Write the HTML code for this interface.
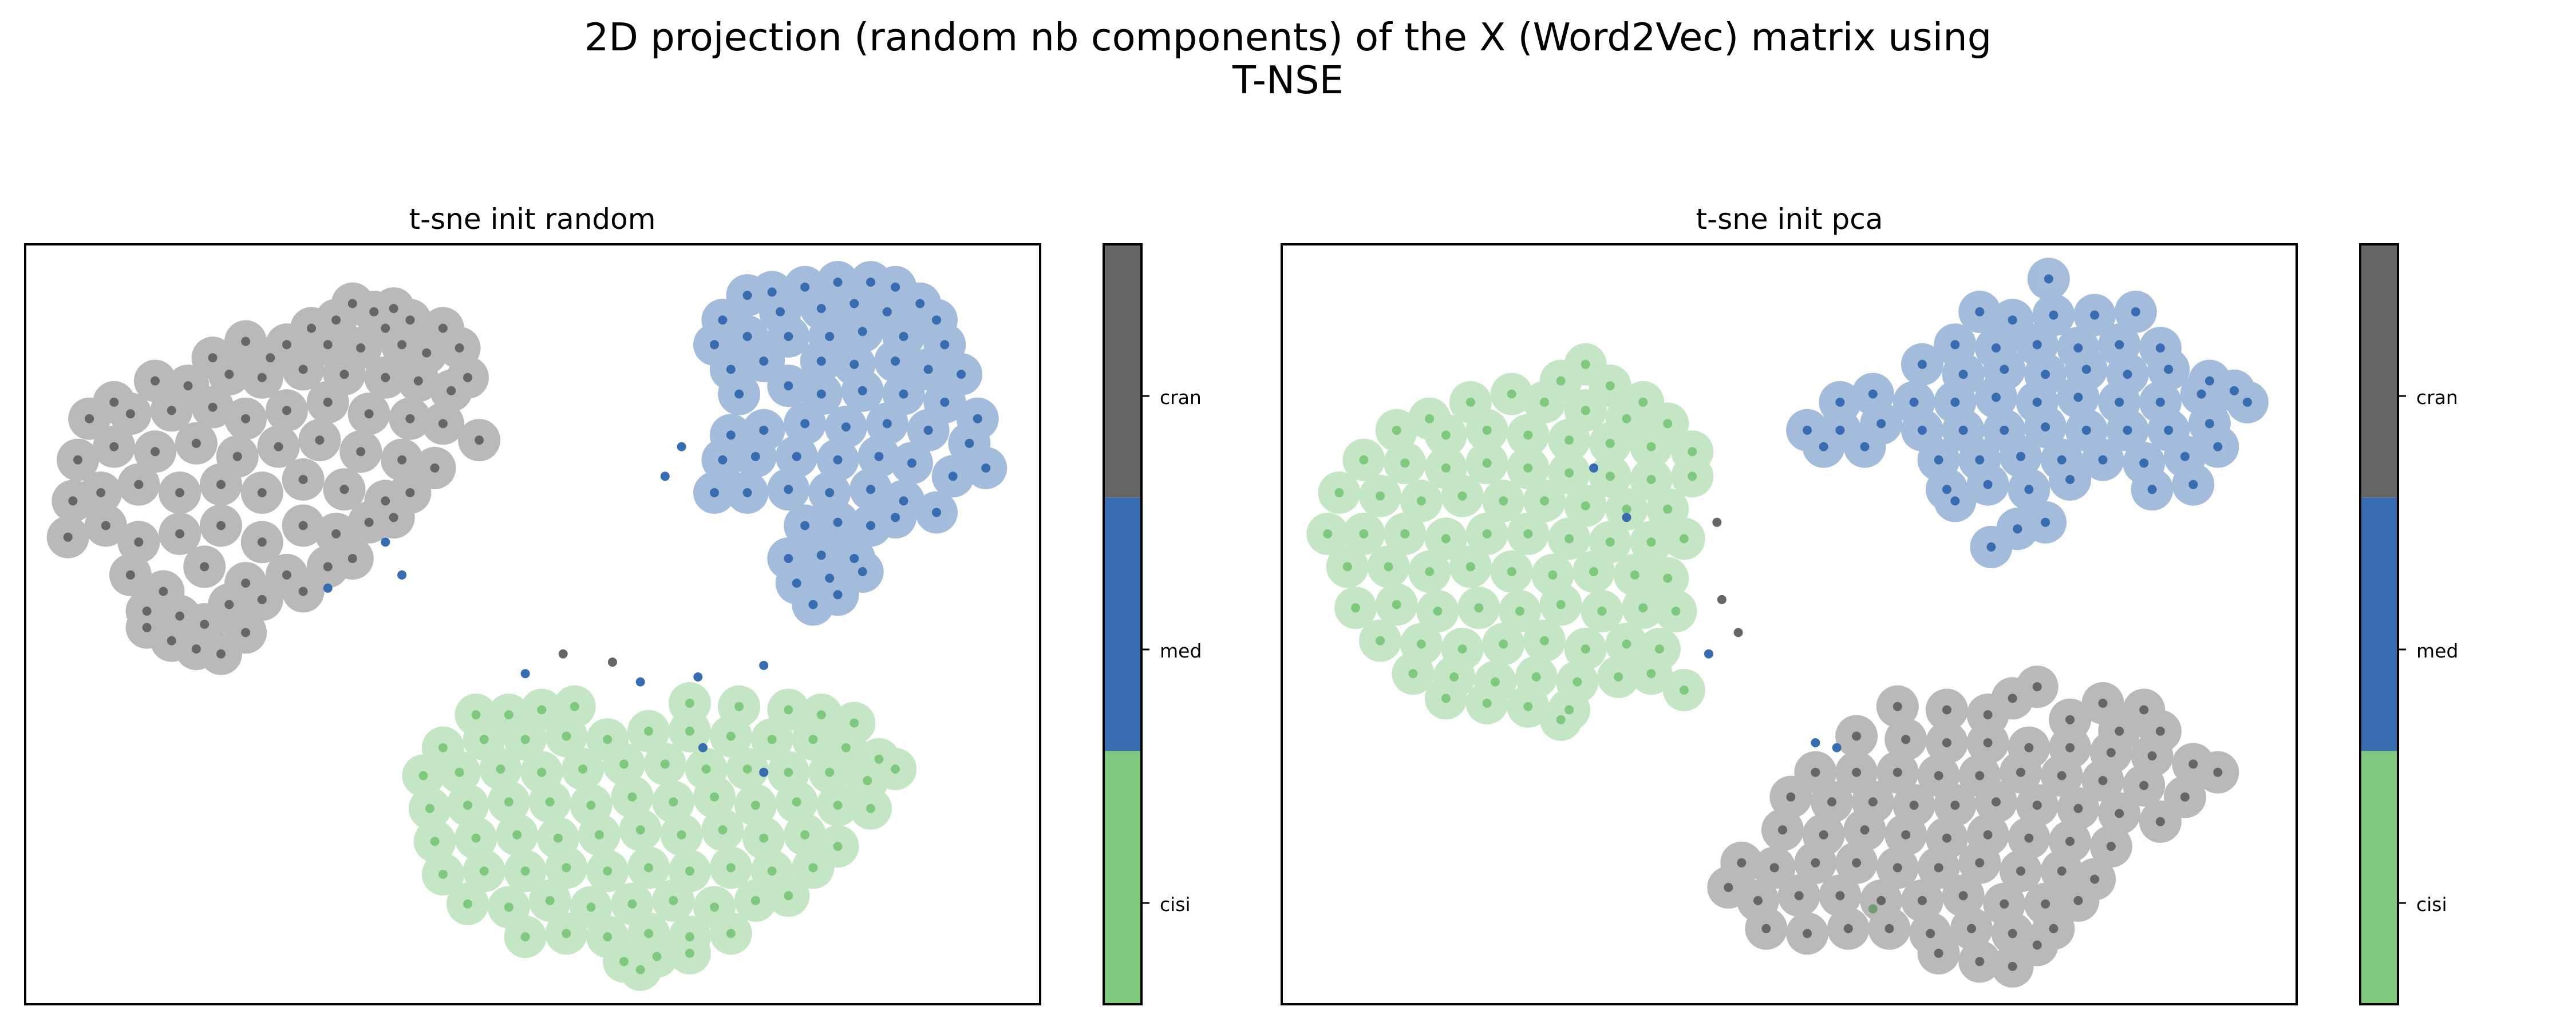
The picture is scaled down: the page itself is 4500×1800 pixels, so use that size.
<!DOCTYPE html>
<html><head><meta charset="utf-8">
<style>
html,body{margin:0;padding:0;background:#fff;}
svg{display:block;}
text{font-family:"DejaVu Sans","Liberation Sans",sans-serif;fill:#000;}
</style></head>
<body>
<svg id="fig" width="4500" height="1800" viewBox="0 0 4500 1800" xmlns="http://www.w3.org/2000/svg">
<rect x="0" y="0" width="4500" height="1800" fill="#fff"/>
<text x="2250" y="88" font-size="67" text-anchor="middle">2D projection (random nb components) of the X (Word2Vec) matrix using</text>
<text x="2250" y="163" font-size="67" text-anchor="middle">T-NSE</text>
<text x="930" y="400" font-size="50" text-anchor="middle">t-sne init random</text>
<text x="3126" y="400" font-size="50" text-anchor="middle">t-sne init pca</text>
<g id="plots"></g>
</svg>
<script>
// Category and colorbar data
const categories = ["cisi", "med", "cran"];
const categoryColors = ["#7fc97f", "#386cb0", "#666666"];

// Left plot (init random) points, in t-SNE units (x: 16..633, y: 149..611 top-to-bottom)
const leftCran = [[215,185],[228,190],[240,188],[250,195],[205,195],[270,200],[190,200],[235,200],[150,208],[175,210],[200,210],[220,212],[245,210],[260,215],[280,212],[130,218],[165,218],[70,245],[95,232],[115,235],[140,228],[160,230],[185,225],[210,228],[235,230],[255,232],[275,238],[285,230],[55,255],[80,252],[105,250],[130,248],[150,255],[175,250],[200,245],[225,252],[250,255],[270,258],[292,268],[48,280],[70,272],[95,275],[120,270],[145,278],[170,272],[195,268],[220,275],[245,280],[265,285],[45,305],[62,300],[85,295],[110,300],[135,295],[160,300],[185,292],[210,298],[235,305],[250,300],[42,327],[65,320],[85,330],[110,325],[135,320],[160,330],[185,320],[205,325],[225,318],[240,315],[80,350],[100,360],[125,345],[150,355],[175,350],[200,345],[215,340],[90,372],[110,375],[140,368],[160,365],[185,360],[90,382],[105,390],[120,395],[135,398],[150,385],[125,380]];
const leftCranOut = [[343,398],[373,403]];
const leftMed = [[455,180],[470,178],[490,175],[510,172],[530,172],[545,175],[560,185],[440,195],[475,190],[500,188],[520,185],[540,190],[570,195],[435,210],[455,205],[480,205],[505,205],[525,202],[550,205],[575,210],[445,225],[465,220],[500,220],[520,222],[545,220],[565,225],[585,228],[450,240],[480,235],[500,240],[525,238],[550,240],[575,245],[595,255],[445,265],[465,262],[490,258],[515,260],[540,258],[565,262],[590,270],[600,285],[440,280],[460,278],[485,278],[510,280],[535,278],[555,282],[580,290],[435,300],[455,300],[480,298],[505,300],[530,298],[550,305],[570,312],[490,320],[510,318],[530,320],[545,315],[480,340],[500,338],[520,340],[485,355],[505,352],[525,348],[495,368],[510,362]];
const leftMedOut = [[405,290],[415,272],[320,410],[390,415],[425,412],[465,405],[245,350],[235,330],[200,358],[465,470],[428,455]];
const leftCisi = [[290,435],[310,435],[330,432],[350,430],[420,428],[450,430],[480,432],[500,435],[520,440],[270,455],[295,450],[320,450],[345,448],[370,450],[395,445],[420,445],[445,448],[470,450],[495,450],[515,455],[535,462],[258,472],[280,470],[305,468],[330,470],[355,468],[380,465],[405,465],[430,468],[455,468],[480,470],[505,470],[528,475],[545,468],[262,492],[285,490],[310,488],[335,488],[360,490],[385,485],[410,488],[435,485],[460,490],[485,488],[510,490],[530,492],[265,512],[290,510],[315,508],[340,510],[365,508],[390,505],[415,508],[440,505],[465,510],[490,508],[510,515],[270,532],[295,530],[320,530],[345,528],[370,530],[395,528],[420,530],[445,528],[470,530],[495,528],[285,550],[310,552],[335,548],[360,552],[385,550],[410,548],[435,552],[460,548],[480,545],[320,570],[345,568],[370,570],[395,568],[420,570],[445,568],[380,585],[400,582],[420,580],[390,590]];

// Right plot (init pca) points, in t-SNE units (x: 780..1398, y: 149..611 top-to-bottom)
const rightCisi = [[965,222],[950,232],[980,235],[1000,245],[920,240],[895,245],[940,245],[965,250],[990,255],[1015,258],[870,255],[850,262],[880,265],[905,262],[930,265],[955,268],[980,270],[1005,272],[1030,275],[830,280],[855,282],[880,285],[905,282],[930,285],[955,288],[980,290],[1005,292],[1030,290],[815,300],[840,302],[865,305],[890,302],[915,305],[940,305],[965,308],[990,310],[1015,310],[808,325],[830,325],[855,325],[880,328],[905,325],[930,325],[955,328],[980,330],[1005,330],[1025,328],[820,345],[845,345],[870,348],[895,345],[920,348],[945,350],[970,348],[995,350],[1015,352],[825,370],[850,368],[875,372],[900,370],[925,372],[950,368],[975,372],[1000,370],[1020,372],[840,390],[865,392],[890,395],[915,392],[940,390],[965,395],[990,392],[1010,395],[860,410],[885,412],[910,415],[935,412],[960,415],[985,412],[1005,410],[880,425],[905,428],[930,430],[955,432],[950,438],[1025,420]];
const rightCisiOut = [[1140,553]];
const rightMed = [[1247,170],[1205,190],[1225,195],[1250,192],[1275,192],[1300,190],[1190,210],[1215,212],[1240,210],[1265,212],[1290,210],[1315,212],[1170,222],[1195,228],[1220,225],[1245,228],[1270,225],[1295,228],[1320,225],[1345,232],[1120,245],[1140,240],[1165,245],[1190,245],[1215,242],[1240,245],[1265,242],[1290,245],[1315,245],[1340,240],[1360,238],[1100,262],[1120,262],[1145,258],[1170,262],[1195,262],[1220,262],[1245,260],[1270,262],[1295,262],[1320,262],[1345,258],[1368,245],[1110,272],[1135,272],[1180,280],[1205,280],[1230,278],[1255,280],[1280,280],[1305,282],[1330,278],[1350,272],[1185,298],[1210,295],[1235,298],[1260,292],[1310,298],[1335,295],[1190,305],[1212,333],[1228,322],[1245,318]];
const rightMedOut = [[1040,398],[970,285],[990,315],[1105,452],[1118,455]];
const rightCran = [[1240,418],[1225,425],[1280,428],[1305,432],[1155,430],[1185,432],[1210,435],[1260,438],[1290,445],[1315,445],[1130,448],[1160,450],[1185,452],[1210,452],[1235,455],[1260,455],[1285,458],[1310,460],[1335,465],[1350,470],[1105,470],[1130,470],[1155,470],[1180,472],[1205,472],[1230,470],[1255,472],[1280,475],[1305,478],[1330,485],[1090,485],[1115,488],[1140,488],[1165,490],[1190,490],[1215,488],[1240,490],[1265,492],[1290,495],[1315,500],[1085,505],[1110,508],[1135,505],[1160,508],[1185,510],[1210,508],[1235,510],[1260,512],[1285,515],[1060,525],[1080,528],[1105,525],[1130,525],[1155,528],[1180,528],[1205,525],[1230,530],[1255,530],[1275,535],[1052,540],[1070,548],[1095,545],[1120,545],[1145,548],[1170,548],[1195,545],[1220,550],[1245,550],[1265,548],[1075,565],[1100,568],[1125,565],[1150,565],[1175,568],[1200,565],[1225,568],[1250,565],[1180,580],[1205,585],[1225,588],[1240,575]];
const rightCranOut = [[1045,318],[1058,385],[1048,365]];

const NS = "http://www.w3.org/2000/svg";
const root = document.getElementById("plots");
function mk(tag, attrs, parent){const e=document.createElementNS(NS,tag);for(const k in attrs)e.setAttribute(k,attrs[k]);(parent||root).appendChild(e);return e;}

function drawPanel(name, box, xDom, yDom, series){
  const xs=v=>box.x+(v-xDom[0])/(xDom[1]-xDom[0])*box.w;
  const ys=v=>box.y+(v-yDom[0])/(yDom[1]-yDom[0])*box.h;
  const g=mk("g",{});
  
  
  for(const s of series){
    const c=categoryColors[s.cat];
    const halo=mk("g",{opacity:"0.45"},g);
    
    
    for(const p of s.main){
      mk("circle",{cx:xs(p[0]).toFixed(1),cy:ys(p[1]).toFixed(1),r:37,fill:c},halo);
    }
    for(const p of s.main.concat(s.out)){
      const ci=mk("circle",{cx:xs(p[0]).toFixed(1),cy:ys(p[1]).toFixed(1),r:8,fill:c},g);
      
      
    }
  }
  const fr=mk("rect",{x:box.x,y:box.y,width:box.w,height:box.h,fill:"none",stroke:"#000","stroke-width":"4"},g);
  
  
}

function drawColorbar(name, x, y, w, h, tickYs){
  const g=mk("g",{});
  
  
  const n=categories.length, seg=h/n;
  for(let i=0;i<n;i++){
    const r=mk("rect",{x:x,y:y+h-(i+1)*seg,width:w,height:seg,fill:categoryColors[i]},g);
    
    
  }
  mk("rect",{x:x,y:y,width:w,height:h,fill:"none",stroke:"#000","stroke-width":"4"},g);
  for(let i=0;i<n;i++){
    const ty=tickYs[i];
    mk("line",{x1:x+w,x2:x+w+14,y1:ty,y2:ty,stroke:"#000","stroke-width":"3"},g);
    const t=mk("text",{x:x+w+32,y:ty+14,"font-size":"33"},g);
    t.textContent=categories[i];
    
    
  }
}

drawPanel("left", {x:44,y:427,w:1773,h:1328}, [16,633], [149,611], [
  {cat:2, main:leftCran, out:leftCranOut},
  {cat:0, main:leftCisi, out:[]},
  {cat:1, main:leftMed, out:leftMedOut}
]);
drawPanel("right", {x:2239,y:427,w:1773,h:1328}, [780,1398], [149,611], [
  {cat:0, main:rightCisi, out:rightCisiOut},
  {cat:2, main:rightCran, out:rightCranOut},
  {cat:1, main:rightMed, out:rightMedOut}
]);
drawColorbar("left-colorbar", 1928, 427, 66, 1328, [1578,1135,692]);
drawColorbar("right-colorbar", 4123, 427, 66, 1328, [1578,1135,692]);
</script>
</body></html>
